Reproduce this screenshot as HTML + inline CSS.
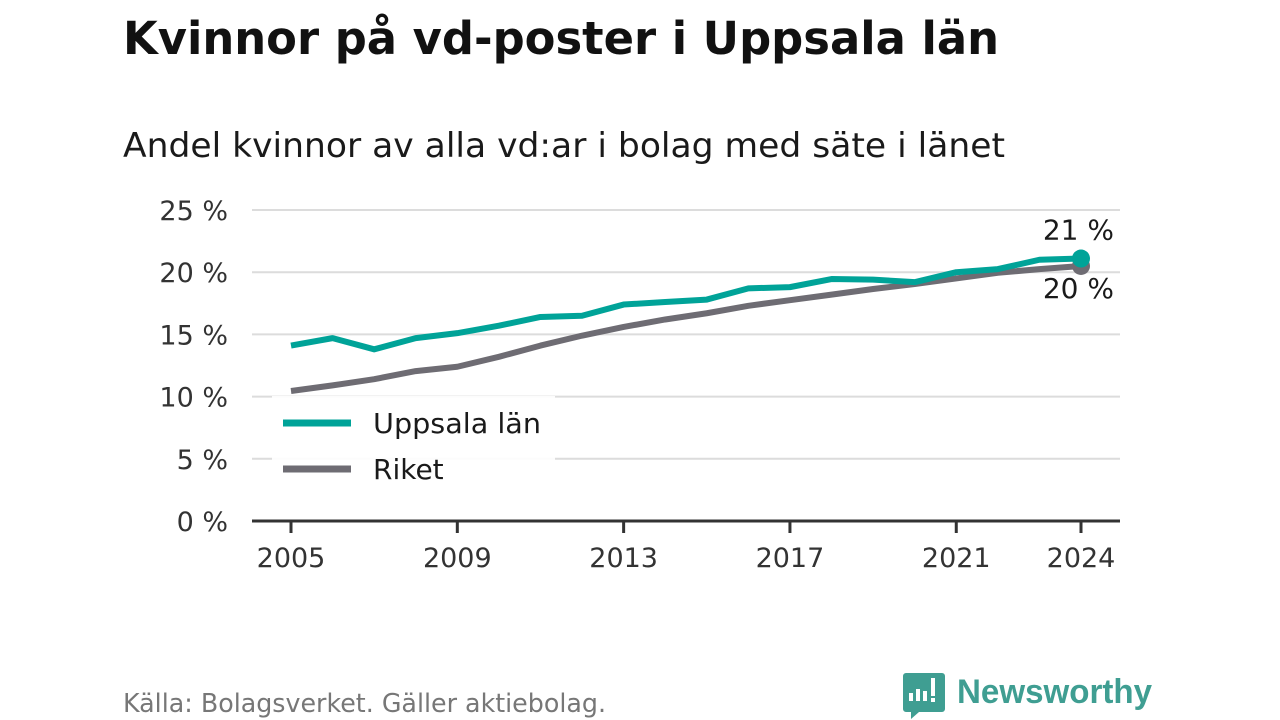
<!DOCTYPE html>
<html><head><meta charset="utf-8"><style>
body{margin:0;width:1280px;height:720px;background:#fff;overflow:hidden;font-family:"DejaVu Sans","Liberation Sans",sans-serif;}
svg{position:absolute;left:0;top:0}
</style></head><body>
<svg id="chart" width="1280" height="720">
<text x="123" y="54" font-size="45" font-weight="bold" fill="#111" textLength="876" lengthAdjust="spacingAndGlyphs">Kvinnor på vd-poster i Uppsala län</text>
<text x="123" y="157" font-size="34" fill="#1a1a1a" textLength="882" lengthAdjust="spacingAndGlyphs">Andel kvinnor av alla vd:ar i bolag med säte i länet</text>
<g id="grid"></g><g id="lines"></g>
<g>
<rect x="272" y="396" width="283" height="66" fill="#fff" opacity="0.9"/>
<line x1="283" y1="423" x2="351" y2="423" stroke="#00a398" stroke-width="7"/>
<text x="373" y="433" font-size="28" fill="#1a1a1a" textLength="168" lengthAdjust="spacingAndGlyphs">Uppsala län</text>
<line x1="283" y1="469" x2="351" y2="469" stroke="#6e6c73" stroke-width="7"/>
<text x="373" y="479" font-size="28" fill="#1a1a1a">Riket</text>
</g>
<text x="123" y="712" font-size="26" fill="#777" textLength="483" lengthAdjust="spacingAndGlyphs">Källa: Bolagsverket. Gäller aktiebolag.</text>
<g>
<path d="M906 673 h36 a3 3 0 0 1 3 3 v33 a3 3 0 0 1 -3 3 h-23 l-8 7 v-7 h-5 a3 3 0 0 1 -3 -3 v-33 a3 3 0 0 1 3 -3z" fill="#3f9e92"/>
<rect x="909" y="693" width="4" height="8" fill="#fff"/><rect x="916" y="689" width="4" height="12" fill="#fff"/><rect x="923" y="691" width="4" height="10" fill="#fff"/><rect x="931" y="678" width="4" height="18" fill="#fff"/><rect x="931" y="698" width="4" height="4" fill="#fff"/>
<text x="957" y="703" font-size="34" font-weight="bold" fill="#3f9e92" font-family="Liberation Sans, sans-serif" textLength="195" lengthAdjust="spacingAndGlyphs">Newsworthy</text>
</g>
</svg>
<script>
const years=[2005,2006,2007,2008,2009,2010,2011,2012,2013,2014,2015,2016,2017,2018,2019,2020,2021,2022,2023,2024];
const uppsala=[14.1,14.7,13.8,14.7,15.1,15.7,16.4,16.5,17.4,17.6,17.8,18.7,18.8,19.45,19.4,19.2,20.0,20.25,21.0,21.1];
const riket=[10.45,10.9,11.4,12.05,12.4,13.2,14.1,14.9,15.6,16.2,16.7,17.3,17.75,18.2,18.65,19.05,19.5,19.95,20.25,20.5];
const yTicks=[0,5,10,15,20,25];
const xTicks=[2005,2009,2013,2017,2021,2024];
const NS='http://www.w3.org/2000/svg';
const x=v=>291+(v-2005)*(1081-291)/19;
const y=v=>521-v*(521-210)/25;
function mk(t,a,p){const e=document.createElementNS(NS,t);for(const k in a)e.setAttribute(k,a[k]);p.appendChild(e);return e;}
const grid=document.getElementById('grid'),lines=document.getElementById('lines');
yTicks.forEach(v=>{
 if(v>0){const l=mk('line',{x1:252,x2:1120,y1:y(v),y2:y(v),stroke:'#dcdcdc','stroke-width':2},grid);
 
 }
 const t=mk('text',{x:228,y:y(v)+10,'font-size':27,fill:'#333','text-anchor':'end'},grid);t.textContent=v+' %';
 
 
});
const ax=mk('line',{x1:252,x2:1120,y1:521,y2:521,stroke:'#333','stroke-width':3},grid);


xTicks.forEach(v=>{
 mk('line',{x1:x(v),x2:x(v),y1:521,y2:533,stroke:'#333','stroke-width':3},grid);
 const t=mk('text',{x:x(v),y:567,'font-size':27,fill:'#333','text-anchor':'middle'},grid);t.textContent=v;
 
 
});
function series(data,col,name){
 const p=mk('polyline',{points:data.map((v,i)=>x(years[i])+','+y(v)).join(' '),fill:'none',stroke:col,'stroke-width':6,'stroke-linejoin':'round'},lines);
 
 
 const c=mk('circle',{cx:x(years[years.length-1]),cy:y(data[data.length-1]),r:9,fill:col},lines);
 
 
}
series(riket,'#6e6c73','line-riket');
series(uppsala,'#00a398','line-uppsala');
const l1=mk('text',{x:1114,y:y(uppsala[19])-19,'font-size':28,fill:'#1a1a1a','text-anchor':'end'},lines);l1.textContent=Math.round(uppsala[19])+' %';


const l2=mk('text',{x:1114,y:y(riket[19])+32,'font-size':28,fill:'#1a1a1a','text-anchor':'end'},lines);l2.textContent=Math.round(riket[19]-0.1)+' %';


</script>
</body></html>
